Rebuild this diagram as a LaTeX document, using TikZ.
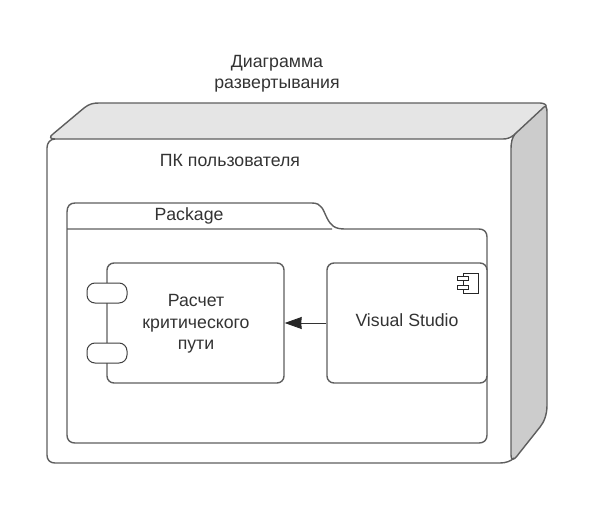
\documentclass[tikz,border=0pt]{standalone}
\usepackage{fontspec}
\setmainfont{Liberation Sans}
\usetikzlibrary{arrows.meta}
\definecolor{linec}{HTML}{5E5E5E}
\definecolor{textc}{HTML}{333333}
\tikzset{
  outline/.style={draw=linec,line width=1.4pt,line join=round},
  label/.style={font=\fontsize{17.7}{21.5}\selectfont,text=textc,align=center,inner sep=0pt},
  compbox/.style={outline,rounded corners=7pt,fill=white,inner sep=0pt,minimum width=#1,minimum height=120pt},
  port/.style={outline,draw=black!75,line width=1pt,rounded corners=8pt,fill=white,inner sep=0pt,minimum width=40pt,minimum height=20pt},
  icon/.style={draw=black!85,line width=.9pt,fill=white,inner sep=0pt}
}
\begin{document}
\begin{tikzpicture}[x=1pt,y=-1pt]
\useasboundingbox (0,0) rectangle (594,506);
\fill[white] (0,0) rectangle (594,506);
% top face
\path[outline,fill=black!10] (55,139) .. controls (50,139) and (49,137) .. (53,134) -- (84,108) .. controls (89,104) and (93,103) .. (99,103) -- (540,103) .. controls (544,103) and (547,105) .. (546,107) -- (514,135) .. controls (510,138) and (507,139) .. (503,139) -- cycle;
% right face
\path[outline,fill=black!20] (511,150) .. controls (511,142) and (512,138) .. (515,134) -- (544,107) .. controls (546,105) and (547,108) .. (547,112) -- (547,405) .. controls (547,415) and (544,422) .. (540,427) -- (517,456) .. controls (513,461) and (511,460) .. (511,455) -- cycle;
% front face
\path[outline] (55,139) .. controls (50,139) and (47,143) .. (47,148) -- (47,455) .. controls (47,460) and (50,463) .. (55,463) -- (500,463) .. controls (506,463) and (511,461) .. (514,458);
% package
\path[outline] (332,229) -- (67,229) -- (67,212) .. controls (67,206) and (70,203) .. (75,203) -- (312,203) .. controls (322,203) and (323,210) .. (327,218) .. controls (331,226) and (335,229) .. (345,229) -- (479,229) .. controls (484,229) and (487,232) .. (487,237) -- (487,435) .. controls (487,440) and (484,443) .. (479,443) -- (75,443) .. controls (70,443) and (67,440) .. (67,435) -- (67,229);
% component boxes
\node[compbox=177pt] (calc) at (195.5,323) {};
\node[compbox=160pt] (vs) at (407,323) {};
\node[port] (p1) at (107,293) {};
\node[port] (p2) at (107,353) {};
% icon
\node[icon,minimum width=15pt,minimum height=20pt] (ic) at (470.5,283) {};
\node[icon,minimum width=11pt,minimum height=4pt] (ic1) at (462.5,278.5) {};
\node[icon,minimum width=11pt,minimum height=4pt] (ic2) at (462.5,287.5) {};
% connector
\draw[black!80,line width=.9pt,-{Stealth[length=17pt,width=12pt,inset=.5pt,color=black!85]}] (vs.west) -- (calc.east);
% labels
\node[label] (title) at (277,73.5) {Диаграмма\\развертывания};
\node[label] (pc) at (230,160) {ПК пользователя};
\node[label] (pkg) at (189,216) {Package};
\node[label] (calct) at (196,324) {Расчет\\критического\\пути};
\node[label] (vst) at (407,320) {Visual Studio};
\end{tikzpicture}
\end{document}
